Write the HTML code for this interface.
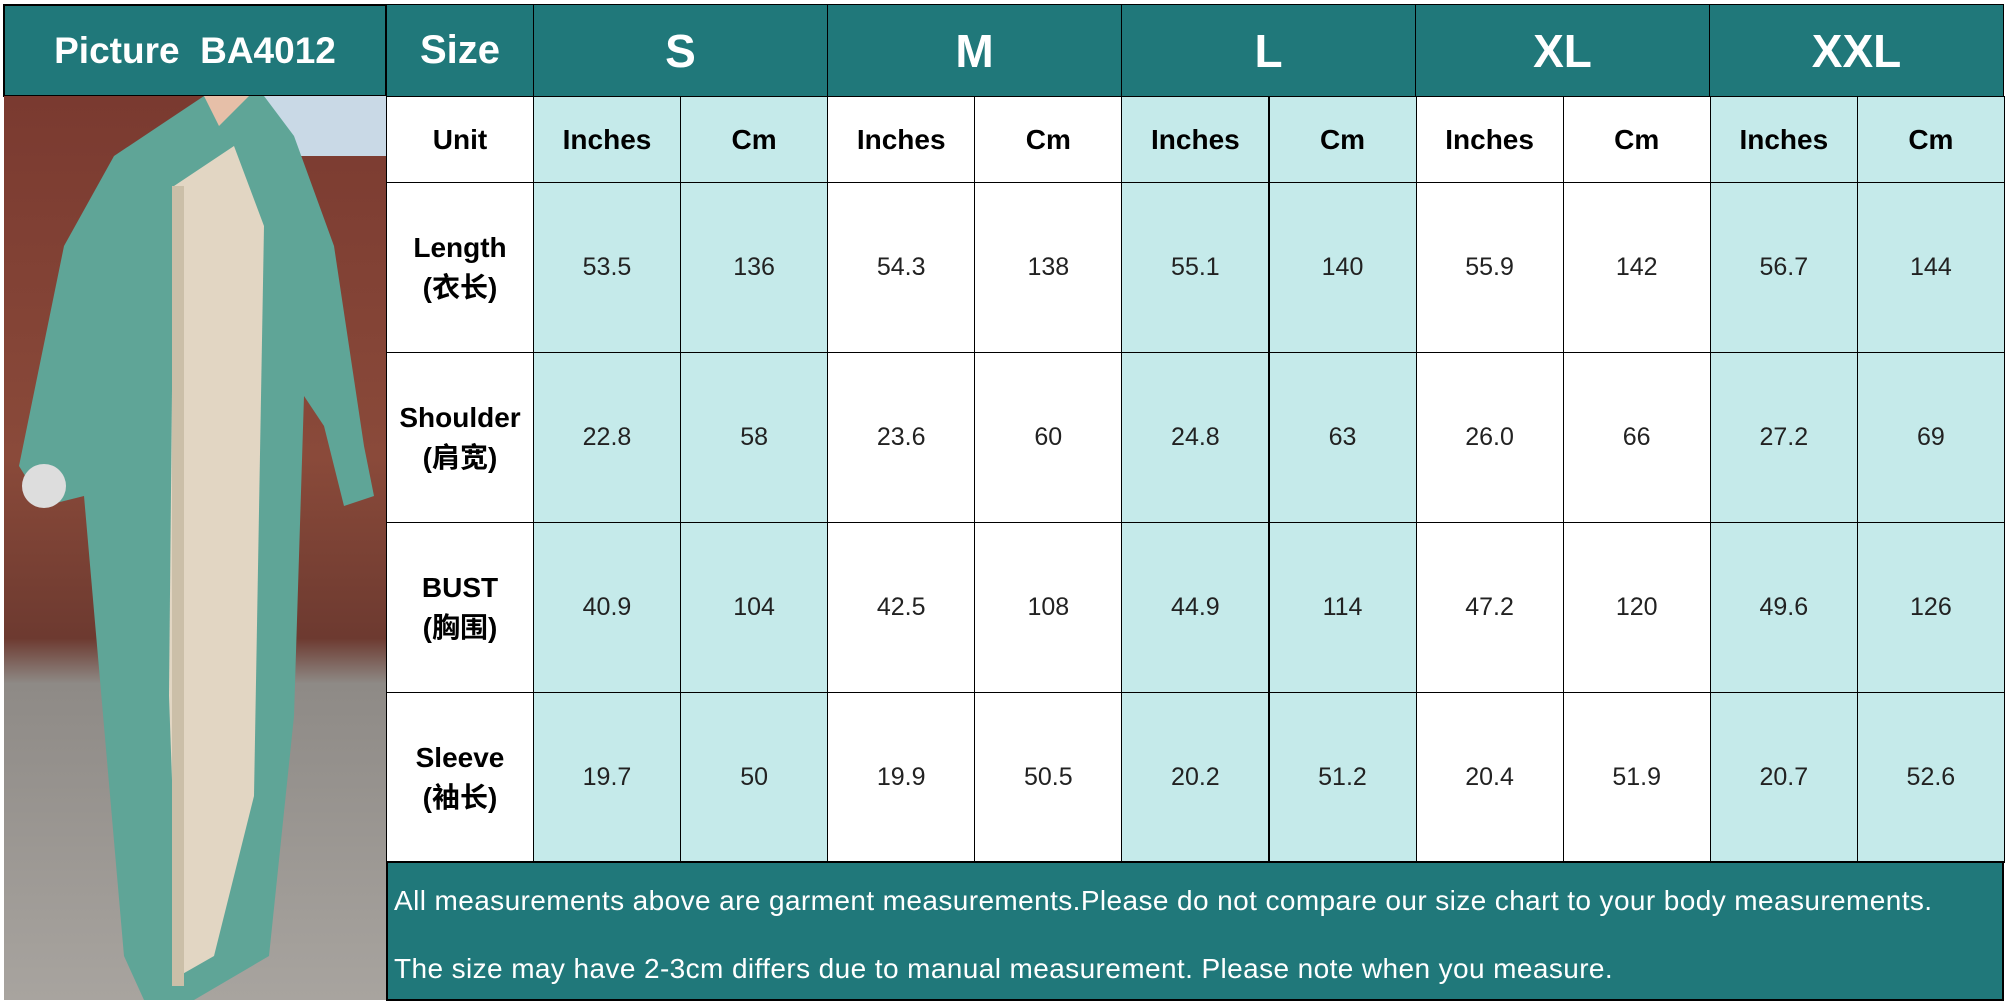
<!DOCTYPE html>
<html><head><meta charset="utf-8"><style>
body{margin:0;width:2007px;height:1005px;background:#fff;position:relative;overflow:hidden;font-family:"Liberation Sans","Noto Sans CJK SC",sans-serif}
.c{position:absolute;box-sizing:border-box;border:1px solid #000;display:flex;align-items:center;justify-content:center;text-align:center}
.h{background:#20787a;color:#fff;font-weight:bold}
.t{background:#c5eaea}
.w{background:#fff}
.n{font-size:25px;color:#222}
.u{font-size:28px;font-weight:bold}
.r{font-size:28px;font-weight:bold;line-height:40px}
</style></head><body>
<div class="c h" style="left:3px;top:4px;width:384px;height:93px;font-size:37px;border-width:2px">Picture&nbsp; BA4012</div>
<div style="position:absolute;left:4px;top:96px;width:382px;height:904px;overflow:hidden;background:linear-gradient(180deg,#7a3a30 0%,#8a4a3a 40%,#6d3a30 60%,#8e8a86 65%,#a8a49f 100%)">
<svg width="382" height="904" viewBox="0 0 382 904">
<rect x="230" y="0" width="152" height="60" fill="#c9d9e6"/>
<path d="M110 60 L200 0 L260 0 L290 40 L330 150 L360 350 L370 400 L340 410 L320 330 L300 300 L290 620 L265 860 L190 904 L140 904 L120 860 L80 400 L40 410 L15 370 L60 150 Z" fill="#5fa597"/>
<path d="M170 90 L230 50 L260 130 L250 700 L210 860 L175 880 L165 600 Z" fill="#e2d6c3"/>
<rect x="168" y="90" width="12" height="800" fill="#cbbfa8"/>
<circle cx="40" cy="390" r="22" fill="#ddd"/>
<path d="M200 0 L215 30 L245 0 Z" fill="#e6bfa8"/>
</svg></div>
<div class="c h" style="left:386px;top:4px;width:148px;height:93px;font-size:40px">Size</div>
<div class="c h" style="left:533px;top:4px;width:295px;height:93px;font-size:46px">S</div>
<div class="c h" style="left:827px;top:4px;width:295px;height:93px;font-size:46px">M</div>
<div class="c h" style="left:1121px;top:4px;width:295px;height:93px;font-size:46px">L</div>
<div class="c h" style="left:1415px;top:4px;width:295px;height:93px;font-size:46px">XL</div>
<div class="c h" style="left:1709px;top:4px;width:295px;height:93px;font-size:46px">XXL</div>
<div class="c w u" style="left:386px;top:96px;width:148px;height:87px">Unit</div>
<div id="g"></div>
<div class="c h" style="left:386px;top:861px;width:1618px;height:140px;border-width:2px;font-weight:normal;font-size:28px;display:block;text-align:left;padding-left:6px">
<div style="position:absolute;top:22px;left:6px;letter-spacing:0.4px">All measurements above are garment measurements.Please do not compare our size chart to your body measurements.</div>
<div style="position:absolute;top:90px;left:6px;letter-spacing:0.4px">The size may have 2-3cm differs due to manual measurement. Please note when you measure.</div></div>
<script>
var labels=[["Length","(衣长)"],["Shoulder","(肩宽)"],["BUST","(胸围)"],["Sleeve","(袖长)"]];
var d=[["53.5","136","54.3","138","55.1","140","55.9","142","56.7","144"],["22.8","58","23.6","60","24.8","63","26.0","66","27.2","69"],["40.9","104","42.5","108","44.9","114","47.2","120","49.6","126"],["19.7","50","19.9","50.5","20.2","51.2","20.4","51.9","20.7","52.6"]];
var cls=["t","t","w","w","t","t","w","w","t","t"];var h="";
for(var i=0;i<10;i++){var x=533+i*147.1;h+='<div class="c u '+cls[i]+'" style="left:'+x+'px;top:96px;width:148px;height:87px">'+(i%2?"Cm":"Inches")+'</div>';}
for(var r=0;r<4;r++){var y=182+r*170;h+='<div class="c w r" style="left:386px;top:'+y+'px;width:148px;height:171px">'+labels[r][0]+'<br>'+labels[r][1]+'</div>';
for(var i=0;i<10;i++){var x=533+i*147.1;h+='<div class="c n '+cls[i]+'" style="left:'+x+'px;top:'+y+'px;width:148px;height:171px">'+d[r][i]+'</div>';}}
document.getElementById("g").innerHTML=h;
</script>
</body></html>
